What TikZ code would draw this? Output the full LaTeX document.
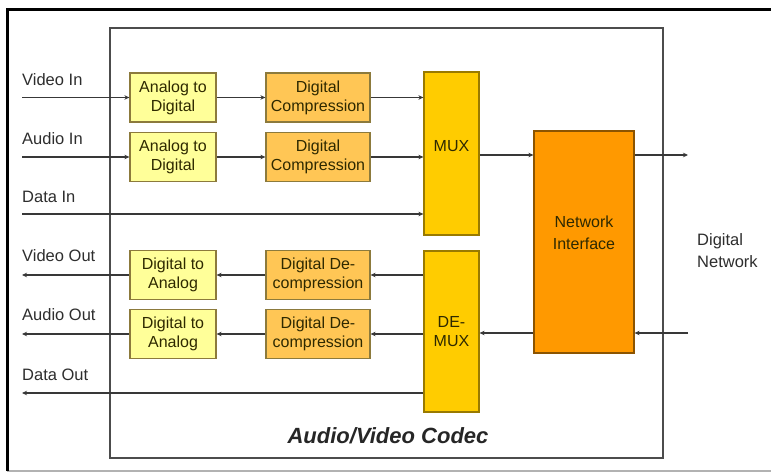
\documentclass[tikz,border=0pt]{standalone}
\usepackage{fontspec}
\setmainfont{Liberation Sans}
\usetikzlibrary{arrows.meta}

\definecolor{adfill}{HTML}{FFFF99}
\definecolor{compfill}{HTML}{FFC655}
\definecolor{muxfill}{HTML}{FFCC00}
\definecolor{nifill}{HTML}{FF9900}
\definecolor{boxline}{HTML}{8C7A3C}
\definecolor{boxtext}{HTML}{2E2900}
\definecolor{wire}{HTML}{383838}
\definecolor{labeltext}{HTML}{2E2E2E}

\tikzset{
  blk/.style={draw=boxline, line width=1.2pt, text=boxtext, align=center,
    inner sep=0pt, font=\fontsize{16}{19}\selectfont},
  conv/.style={blk, fill=adfill, minimum width=86pt, minimum height=49pt},
  codec/.style={blk, fill=compfill, minimum width=104pt, minimum height=49pt},
  muxbox/.style={blk, fill=muxfill, draw=muxfill!60!black, minimum width=55pt},
  netbox/.style={blk, fill=nifill, draw=nifill!55!black, minimum width=100pt, minimum height=222pt},
  sig/.style={draw=wire, line width=1.4pt},
  tip/.style={sig, -{Stealth[length=5pt,width=4.5pt]}},
  lbl/.style={text=labeltext, anchor=west, inner sep=0pt, font=\fontsize{16.5}{18}\selectfont}
}

\begin{document}
\begin{tikzpicture}[x=1pt, y=-1pt]
  \useasboundingbox (0,0) rectangle (771,473);
  \fill[white] (0,0) rectangle (771,473);

  % page frame
  \draw[gray!60, line width=1.5pt] (7,471) -- (771,471);
  \draw[black, line width=3pt] (7,471) -- (7,10) -- (771,10);

  % codec enclosure
  \draw[draw=wire!90, line width=1.3pt] (110,28) rectangle (663,458);
  \node[font=\bfseries\itshape\fontsize{22}{26}\selectfont, text=black!85] (title) at (388,436) {Audio/Video Codec};

  % transmit path
  \node[conv]  (ad1) at (173,97.5) {Analog to\\Digital};
  \node[conv]  (ad2) at (173,157)  {Analog to\\Digital};
  \node[codec] (dc1) at (318,97.5) {Digital\\Compression};
  \node[codec] (dc2) at (318,157)  {Digital\\Compression};
  \node[muxbox, minimum height=163pt] (mux) at (451.5,153.5) {};
  \node[text=boxtext, font=\fontsize{16}{19}\selectfont] (muxtext) at (451.5,146) {MUX};

  % receive path
  \node[conv]  (da1) at (173,275) {Digital to\\Analog};
  \node[conv]  (da2) at (173,334) {Digital to\\Analog};
  \node[codec] (dd1) at (318,275) {Digital De-\\compression};
  \node[codec] (dd2) at (318,334) {Digital De-\\compression};
  \node[muxbox, minimum height=161pt] (demux) at (451.5,331.5) {DE-\\MUX};

  \node[netbox] (ni) at (584,242) {};
  \node[text=boxtext, align=center, font=\fontsize{16}{22}\selectfont] (nitext) at (584,233) {Network\\Interface};

  % external signal labels
  \node[lbl] (lvi) at (22,80)  {Video In};
  \node[lbl] (lai) at (22,139) {Audio In};
  \node[lbl] (ldi) at (22,197) {Data In};
  \node[lbl] (lvo) at (22,256) {Video Out};
  \node[lbl] (lao) at (22,315) {Audio Out};
  \node[lbl] (ldo) at (22,375) {Data Out};
  \node[text=labeltext, align=left, anchor=west, inner sep=0pt, font=\fontsize{16.5}{22}\selectfont] (lnet) at (697,251) {Digital\\Network};

  % line ends outside the codec
  \coordinate (vin)  at (22,97.5);
  \coordinate (ain)  at (22,157);
  \coordinate (din)  at (22,214);
  \coordinate (vout) at (22,275);
  \coordinate (aout) at (22,334);
  \coordinate (dout) at (22,393);
  \coordinate (ntx)  at (688,155);
  \coordinate (nrx)  at (688,333);

  % transmit wiring
  \draw[tip] (vin) -- (ad1.west);
  \draw[tip] (ain) -- (ad2.west);
  \draw[tip] (ad1) -- (dc1);
  \draw[tip] (ad2) -- (dc2);
  \draw[tip] (dc1.east) -- (dc1.east -| mux.west);
  \draw[tip] (dc2.east) -- (dc2.east -| mux.west);
  \draw[tip] (din) -- (din -| mux.west);
  \draw[tip] (ntx -| mux.east) -- (ntx -| ni.west);
  \draw[tip] (ntx -| ni.east) -- (ntx);

  % receive wiring
  \draw[tip] (nrx) -- (nrx -| ni.east);
  \draw[tip] (nrx -| ni.west) -- (nrx -| demux.east);
  \draw[tip] (dd1.east -| demux.west) -- (dd1.east);
  \draw[tip] (dd2.east -| demux.west) -- (dd2.east);
  \draw[tip] (dd1) -- (da1);
  \draw[tip] (dd2) -- (da2);
  \draw[tip] (da1.west) -- (vout);
  \draw[tip] (da2.west) -- (aout);
  \draw[tip] (dout -| demux.west) -- (dout);
\end{tikzpicture}
\end{document}
